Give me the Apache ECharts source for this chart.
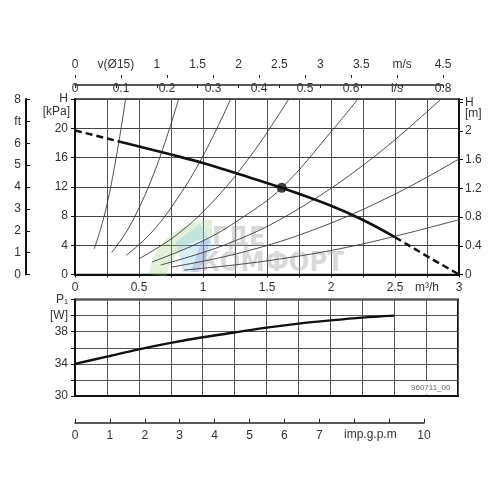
<!DOCTYPE html>
<html>
<head>
<meta charset="utf-8">
<script src="https://cdn.jsdelivr.net/npm/echarts@6/dist/echarts.min.js"></script>
<style>
html, body { margin: 0; padding: 0; background: #fff; }
#chart { width: 496px; height: 496px; }
</style>
</head>
<body>
<div id="chart"></div>
<script>
// pump curve: flow [m3/h] -> head [kPa]
const pumpQ = [0, 0.344, 0.75, 1.0, 1.25, 1.615, 2.0, 2.25, 2.5, 2.75, 3.0];
const pumpH = [19.7, 18.2, 16.4, 15.25, 13.9, 11.85, 9.4, 7.45, 5.1, 2.5, 0];
const dutyPoint = [1.615, 11.85];

// thin system curves
const sysQ = [
  [0.15, 0.2, 0.25, 0.3, 0.35, 0.395],
  [0.286, 0.4, 0.5, 0.6, 0.7, 0.81],
  [0.40, 0.6, 0.8, 1.0, 1.217],
  [0.5, 0.8, 1.1, 1.4, 1.67],
  [0.6, 1.0, 1.3, 1.615, 2.0, 2.21],
  [0.67, 1.2, 1.7, 2.3, 2.86],
  [0.75, 1.3, 1.9, 2.5, 3.0],
  [0.85, 1.5, 2.2, 3.0]
];
const sysH = [
  [3.5, 6.2, 9.6, 13.9, 18.9, 24],
  [3.0, 5.8, 9.1, 13.1, 17.9, 24],
  [2.6, 5.8, 10.4, 16.2, 24],
  [2.15, 5.5, 10.4, 16.9, 24],
  [1.7, 4.6, 7.7, 11.85, 19.5, 24],
  [1.3, 4.25, 8.5, 15.6, 24],
  [1.0, 3.0, 6.35, 11.0, 15.8],
  [0.6, 1.87, 4.0, 7.5]
];

// power input: flow [m3/h] -> P1 [W]
const powerQ = [0, 0.25, 0.5, 0.75, 1, 1.25, 1.5, 1.75, 2, 2.25, 2.5];
const powerW = [34, 34.9, 35.8, 36.6, 37.3, 37.9, 38.5, 39.0, 39.4, 39.75, 40];

// tick labels
const flowLabels = ['0', '', '0.5', '', '1', '', '1.5', '', '2', '', '2.5', 'm³/h', '3'];
const kpaLabels = ['0', '4', '8', '12', '16', '20', 'H'];
const mLabels = ['0', '0.4', '0.8', '1.2', '1.6', '2', 'H'];
const ftLabels = ['0', '1', '2', '3', '4', '5', '6', 'ft', '8'];
const velLabels = ['0', 'v(Ø15)', '1', '1.5', '2', '2.5', '3', '3.5', 'm/s', '4.5'];
const lpsLabels = ['0', '0.1', '0.2', '0.3', '0.4', '0.5', '0.6', 'l/s', '0.8'];
const wLabels = ['30', '', '34', '', '38', '[W]', 'P₁'];
const gpmLabels = ['0', '1', '2', '3', '4', '5', '6', '7', '', '', '10'];

function pick(labels, step, min) {
  return function (v) {
    const i = (v - (min || 0)) / step;
    const r = Math.round(i);
    if (Math.abs(i - r) > 1e-6) return '';
    return labels[r] !== undefined ? labels[r] : '';
  };
}

const zip = (a, b) => a.map((x, i) => [x, b[i]]);

const txt = '#333';
const font = 'Liberation Sans, Arial, sans-serif';
const lab = { color: txt, fontSize: 12, fontFamily: font };

var myChart = echarts.init(document.getElementById('chart'));

var pump = zip(pumpQ, pumpH);
var series = [];
sysQ.forEach(function (q, i) {
  series.push({
    type: 'line', xAxisIndex: 0, yAxisIndex: 0, clip: true,
    data: zip(q, sysH[i]), smooth: 0.4, showSymbol: false, silent: true,
    lineStyle: { color: '#3a3a3a', width: 0.9 }, z: 2
  });
});
series.push({
  type: 'line', xAxisIndex: 0, yAxisIndex: 0, data: pump.slice(0, 2), clip: true,
  showSymbol: false, silent: true,
  lineStyle: { color: '#111', width: 2.5, type: [7, 4] }, z: 5
});
series.push({
  type: 'line', xAxisIndex: 0, yAxisIndex: 0, data: pump.slice(1, 9), clip: true,
  smooth: 0.4, showSymbol: false, silent: true,
  lineStyle: { color: '#111', width: 2.6 }, z: 5
});
series.push({
  type: 'line', xAxisIndex: 0, yAxisIndex: 0, data: pump.slice(8), clip: true,
  showSymbol: false, silent: true,
  lineStyle: { color: '#111', width: 2.5, type: [7, 4] }, z: 5
});
series.push({
  type: 'scatter', xAxisIndex: 0, yAxisIndex: 0, data: [dutyPoint],
  symbolSize: 10, itemStyle: { color: '#111' }, silent: true, z: 6
});
series.push({
  type: 'line', xAxisIndex: 1, yAxisIndex: 3, data: zip(powerQ, powerW), clip: true,
  smooth: 0.3, showSymbol: false, silent: true,
  lineStyle: { color: '#111', width: 2.4 }, z: 5
});

var option = {
  animation: false,
  grid: [
    { left: 75, top: 99, width: 384, height: 175.5, show: true, borderColor: '#222', borderWidth: 1.5, outerBoundsMode: 'none', containLabel: false },
    { left: 75, top: 299.5, width: 383, height: 96.5, show: true, borderColor: '#111', borderWidth: 2, outerBoundsMode: 'none', containLabel: false },
    { left: 75, top: 75, width: 368, height: 10, outerBoundsMode: 'none', containLabel: false },
    { left: 75, top: 400, width: 349, height: 22.7, outerBoundsMode: 'none', containLabel: false }
  ],
  xAxis: [
    {
      gridIndex: 0, type: 'value', min: 0, max: 3, interval: 0.25, position: 'bottom',
      axisLine: { lineStyle: { color: '#111', width: 2 } },
      axisTick: { show: true, length: 3, lineStyle: { color: '#111' } },
      axisLabel: Object.assign({ margin: 7, formatter: pick(flowLabels, 0.25) }, lab),
      splitLine: { show: true, lineStyle: { color: '#555', width: 1 } }
    },
    {
      gridIndex: 1, type: 'value', min: 0, max: 3, interval: 0.25, position: 'bottom',
      axisLine: { lineStyle: { color: '#111', width: 2 } },
      axisTick: { show: false }, axisLabel: { show: false },
      splitLine: { show: true, lineStyle: { color: '#555', width: 1 } }
    },
    {
      gridIndex: 2, type: 'value', min: 0, max: 4.5, interval: 0.5, position: 'top',
      axisLine: { lineStyle: { color: '#222', width: 1.5 } },
      axisTick: { show: true, inside: true, length: 3, lineStyle: { color: '#222' } },
      axisLabel: Object.assign({ margin: 4, formatter: pick(velLabels, 0.5) }, lab),
      splitLine: { show: false }
    },
    {
      gridIndex: 2, type: 'value', min: 0, max: 0.8, interval: 0.1, position: 'top',
      axisLine: { show: false },
      axisTick: { show: true, inside: true, length: 3, lineStyle: { color: '#222' } },
      axisLabel: Object.assign({ inside: true, margin: 8, formatter: pick(lpsLabels, 0.1) }, lab),
      splitLine: { show: false }
    },
    {
      gridIndex: 3, type: 'value', min: 0, max: 10, interval: 1, position: 'bottom',
      axisLine: { lineStyle: { color: '#222', width: 1.5 } },
      axisTick: { show: true, inside: true, length: 4, lineStyle: { color: '#222' } },
      axisLabel: Object.assign({ margin: 7, formatter: pick(gpmLabels, 1) }, lab),
      splitLine: { show: false }
    }
  ],
  yAxis: [
    {
      gridIndex: 0, type: 'value', min: 0, max: 24, interval: 4, position: 'left',
      axisLine: { show: true, lineStyle: { color: '#111', width: 2 } },
      axisTick: { show: true, length: 4, lineStyle: { color: '#111' } },
      axisLabel: Object.assign({ margin: 7, formatter: pick(kpaLabels, 4) }, lab),
      splitLine: { show: true, lineStyle: { color: '#444', width: 1 } }
    },
    {
      gridIndex: 0, type: 'value', min: 0, max: 2.4465, interval: 0.4, position: 'right',
      axisLine: { show: true, lineStyle: { color: '#111', width: 2 } },
      axisTick: { show: true, length: 4, lineStyle: { color: '#111' } },
      axisLabel: Object.assign({ margin: 6, formatter: pick(mLabels, 0.4) }, lab),
      splitLine: { show: false }
    },
    {
      gridIndex: 0, type: 'value', min: 0, max: 8.027, interval: 1, position: 'left', offset: 49,
      axisLine: { show: true, lineStyle: { color: '#111', width: 2 } },
      axisTick: { show: true, inside: true, length: 4, lineStyle: { color: '#111' } },
      axisLabel: Object.assign({ margin: 5, formatter: pick(ftLabels, 1) }, lab),
      splitLine: { show: false }
    },
    {
      gridIndex: 1, type: 'value', min: 30, max: 42, interval: 2, position: 'left',
      axisLine: { show: true, lineStyle: { color: '#111', width: 2 } },
      axisTick: { show: true, length: 4, lineStyle: { color: '#111' } },
      axisLabel: Object.assign({ margin: 7, formatter: pick(wLabels, 2, 30) }, lab),
      splitLine: { show: true, lineStyle: { color: '#555', width: 1 } }
    },
    { gridIndex: 2, type: 'value', show: false, min: 0, max: 1 },
    { gridIndex: 3, type: 'value', show: false, min: 0, max: 1 }
  ],
  graphic: [
    // watermark
    { type: 'sector', silent: true, z: 1,
      shape: { cx: 212, cy: 284, r: 64, r0: 46, startAngle: Math.PI * 1.05, endAngle: Math.PI * 1.5 },
      style: { fill: 'rgba(150,200,120,0.28)' } },
    { type: 'polygon', silent: true, z: 1,
      shape: { points: [[176, 242], [200, 224], [214, 247], [197, 272], [183, 272]] },
      style: { fill: 'rgba(130,195,230,0.3)' } },
    { type: 'polygon', silent: true, z: 1,
      shape: { points: [[201, 242], [211, 238], [201, 272], [191, 272]] },
      style: { fill: 'rgba(120,120,200,0.25)' } },
    { type: 'text', left: 212, top: 225, silent: true, z: 1,
      style: { text: 'ГДЕ', fill: 'rgba(160,160,160,0.4)', font: 'bold 27px "DejaVu Sans Condensed", "Liberation Sans Narrow", Arial' } },
    { type: 'text', left: 200, top: 250, silent: true, z: 1,
      style: { text: 'КОМФОРТ', fill: 'rgba(160,160,160,0.4)', font: 'bold 27px "DejaVu Sans Condensed", "Liberation Sans Narrow", Arial' } },
    // unit labels
    { type: 'text', right: 426, top: 106, style: { text: '[kPa]', fill: txt, font: '12px ' + font } },
    { type: 'text', left: 465, top: 108, style: { text: '[m]', fill: txt, font: '12px ' + font } },
    { type: 'text', left: 344, top: 429, style: { text: 'imp.g.p.m', fill: txt, font: '12px ' + font } },
    { type: 'rect', z: 10, shape: { x: 408, y: 381, width: 48, height: 13.5 }, style: { fill: '#fff' } },
    { type: 'text', z: 11, left: 411, top: 384, style: { text: '960711_00', fill: '#666', font: '8px ' + font } }
  ],
  series: series
};
myChart.setOption(option);
</script>
</body>
</html>
